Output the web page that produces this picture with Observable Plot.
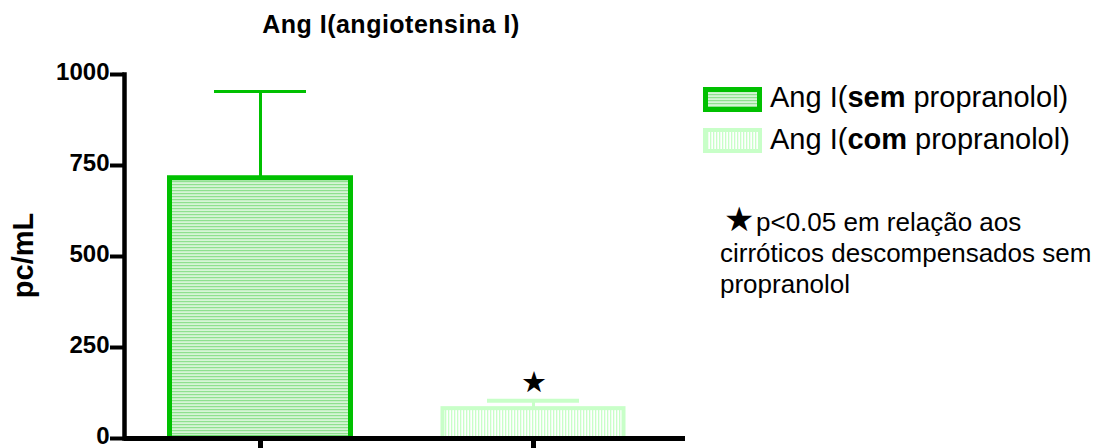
<!DOCTYPE html>
<html><head><meta charset="utf-8">
<script src="https://cdn.jsdelivr.net/npm/d3@7"></script>
<script src="https://cdn.jsdelivr.net/npm/@observablehq/plot@0.6"></script>
<style>
body{margin:0;background:#fff;font-family:"Liberation Sans",Arial,sans-serif;}
#wrap{position:relative;width:1093px;height:448px;overflow:hidden;}
#title{position:absolute;left:191px;width:400px;top:12px;text-align:center;font-weight:bold;font-size:25px;line-height:25px;letter-spacing:0.5px;}
.sw{position:absolute;left:703px;}
.lt{position:absolute;left:770px;font-size:29px;line-height:29px;white-space:nowrap;}
#note{position:absolute;left:720px;top:207px;font-size:26px;line-height:31px;white-space:nowrap;}
#note .st{font-size:34px;line-height:0;margin-left:4px;margin-right:2px;}
</style></head>
<body><div id="wrap"><div id="chart"></div>
<div id="title">Ang I(angiotensina I)</div>
<svg class="sw" style="top:87px" width="59" height="25"><rect x="2.5" y="2.5" width="54" height="20" fill="url(#hs)" stroke="#00c000" stroke-width="5"/></svg>
<div class="lt" style="top:83px">Ang I(<b>sem</b> propranolol)</div>
<svg class="sw" style="top:128px" width="59" height="25"><rect x="2" y="2" width="55" height="21" fill="url(#vs)" stroke="#c8ffc8" stroke-width="4"/></svg>
<div class="lt" style="top:125px">Ang I(<b>com</b> propranolol)</div>
<div id="note"><span class="st">★</span>p&lt;0.05 em relação aos<br>cirróticos descompensados sem<br>propranolol</div>
</div>
<script>
const categories = ["sem propranolol", "com propranolol"];
const means = [715, 82];
const errTops = [953, 104];
const significant = [false, true];
const yTicks = [0, 250, 500, 750, 1000];
const strokes = ["#00c000", "#c8ffc8"];
const fills = ["url(#hs)", "url(#vs)"];

const data = categories.map((c, i) => ({cat: c, mean: means[i], err: errTops[i], sig: significant[i], stroke: strokes[i], fill: fills[i]}));

const chart = Plot.plot({
  width: 1093, height: 448,
  marginLeft: 124, marginRight: 408, marginTop: 74, marginBottom: 10,
  style: {fontFamily: "Liberation Sans, Arial, sans-serif", background: "transparent"},
  x: {domain: categories, range: [166, 626], paddingInner: 0.319, paddingOuter: 0},
  y: {domain: [0, 1000]},
  marks: [
    Plot.ruleX(data, {x: "cat", y1: "mean", y2: "err", stroke: "stroke", strokeWidth: 3}),
    Plot.tickY(data, {x: "cat", y: "err", stroke: "stroke", strokeWidth: d => d.sig ? 4 : 3, insetLeft: 47, insetRight: 47}),
    Plot.barY(data, {x: "cat", y: "mean", fill: "fill", stroke: "stroke", strokeWidth: d => d.sig ? 4 : 5, insetLeft: 2.5, insetRight: 2.5}),
    Plot.text(data.filter(d => d.sig), {x: "cat", y: "err", text: () => "★", dy: -18, fontSize: 29, fill: "black"}),
    Plot.ruleY([0], {stroke: "black", strokeWidth: 5}),
    Plot.frame({anchor: "left", stroke: "black", strokeWidth: 4.5}),
    Plot.axisY({ticks: yTicks, tickSize: 14, tickFormat: () => "", strokeWidth: 4, label: null}),
    Plot.axisY({ticks: yTicks, tickSize: 0, tickPadding: 15, dy: -2, tickFormat: d => String(d), fontSize: 24, fontWeight: "bold", label: null}),
    Plot.axisX({tickSize: 14, tickFormat: () => "", strokeWidth: 5, label: null}),
    Plot.text(["pc/mL"], {frameAnchor: "left", textAnchor: "middle", dx: -101, dy: -1, rotate: -90, fontSize: 29, fontWeight: "bold", fill: "black"})
  ]
});
document.getElementById("chart").appendChild(chart);

// pattern definitions
const svg = d3.select(chart);
const defs = svg.insert("defs", ":first-child");
const hs = defs.append("pattern").attr("id", "hs").attr("patternUnits", "userSpaceOnUse").attr("width", 6).attr("height", 3);
hs.append("rect").attr("width", 6).attr("height", 3).attr("fill", "#d6f5d6");
hs.append("rect").attr("y", 1).attr("width", 6).attr("height", 1.2).attr("fill", "#8fe08f");
const vs = defs.append("pattern").attr("id", "vs").attr("patternUnits", "userSpaceOnUse").attr("width", 3).attr("height", 6);
vs.append("rect").attr("width", 3).attr("height", 6).attr("fill", "#ffffff");
vs.append("rect").attr("x", 1).attr("width", 1.3).attr("height", 6).attr("fill", "#c8ffc8");
</script>
</body></html>
